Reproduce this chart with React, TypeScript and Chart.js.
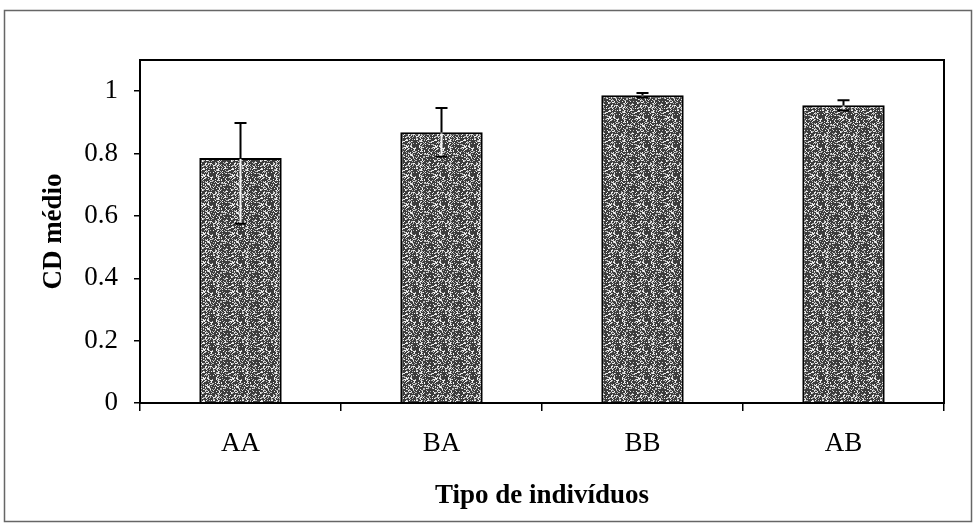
import React, { useEffect, useRef } from "react";
import { Chart, registerables } from "chart.js";

Chart.register(...registerables);

const categories = ["AA", "BA", "BB", "AB"];
const means = [0.786, 0.868, 0.987, 0.955];
const errHigh = [0.898, 0.946, 0.994, 0.971];
const errLow = [0.575, 0.79, 0.98, 0.938];
const yTicks = [0, 0.2, 0.4, 0.6, 0.8, 1];

const FONT = "'Liberation Serif', 'Times New Roman', serif";

function makePattern(): CanvasPattern | string {
  const n = 29;
  const c = document.createElement("canvas");
  c.width = n;
  c.height = n;
  const g = c.getContext("2d");
  if (!g) return "#777";
  g.fillStyle = "#3c3c3c";
  g.fillRect(0, 0, n, n);
  for (let i = 0; i < n; i++) {
    for (let j = 0; j < n; j++) {
      // deterministic hash-based speckle texture
      let h = (i * 374761393 + j * 668265263) | 0;
      h = Math.imul(h ^ (h >>> 13), 1274126177);
      h = (h ^ (h >>> 16)) >>> 0;
      const r = (h % 1000) / 1000;
      if (r < 0.36) {
        g.fillStyle = r < 0.18 ? "#f2f2f2" : "#b8b8b8";
        g.fillRect(i, j, 1, 1);
      }
    }
  }
  const p = g.createPattern(c, "repeat");
  return p || "#777";
}

const framePlugin = {
  id: "frameAndErrors",
  afterDatasetsDraw(chart: any) {
    const { ctx, chartArea } = chart;
    const yScale = chart.scales.y;
    const meta = chart.getDatasetMeta(0);
    ctx.save();
    meta.data.forEach((bar: any, i: number) => {
      const x = bar.x;
      const yTop = yScale.getPixelForValue(errHigh[i]);
      const yBar = yScale.getPixelForValue(means[i]);
      const yLow = yScale.getPixelForValue(errLow[i]);
      ctx.lineWidth = 2;
      ctx.strokeStyle = "#000";
      ctx.beginPath();
      ctx.moveTo(x, yTop);
      ctx.lineTo(x, yBar);
      ctx.moveTo(x - 6, yTop);
      ctx.lineTo(x + 6, yTop);
      ctx.stroke();
      ctx.strokeStyle = "#f4f4f4";
      ctx.beginPath();
      ctx.moveTo(x, yBar + 1);
      ctx.lineTo(x, yLow);
      ctx.stroke();
      ctx.strokeStyle = "#000";
      ctx.beginPath();
      ctx.moveTo(x - 6, yLow);
      ctx.lineTo(x + 6, yLow);
      ctx.stroke();
    });
    ctx.strokeStyle = "#000";
    ctx.lineWidth = 2;
    ctx.strokeRect(chartArea.left, chartArea.top, chartArea.right - chartArea.left, chartArea.bottom - chartArea.top);
    ctx.strokeStyle = "#666";
    ctx.lineWidth = 1.5;
    ctx.strokeRect(4.5, 10.5, 967, 511);
    ctx.restore();
  },
};

export default function App() {
  const ref = useRef<HTMLCanvasElement | null>(null);
  useEffect(() => {
    document.body.style.margin = "0";
    const canvas = ref.current;
    if (!canvas) return;
    const chart = new Chart(canvas, {
      type: "bar",
      data: {
        labels: categories,
        datasets: [
          {
            data: means,
            backgroundColor: makePattern() as any,
            borderColor: "#000",
            borderWidth: 2,
            barPercentage: 0.41,
            categoryPercentage: 1,
          },
        ],
      },
      options: {
        animation: false,
        responsive: true,
        maintainAspectRatio: false,
        layout: { padding: { top: 60, right: 33, left: 0, bottom: 0 } },
        plugins: { legend: { display: false }, tooltip: { enabled: false } },
        scales: {
          x: {
            offset: true,
            grid: { offset: true, drawOnChartArea: false, color: "#000", tickLength: 8, lineWidth: 1.5 },
            border: { display: true, color: "#000", width: 2 },
            ticks: { color: "#000", font: { family: FONT, size: 27 }, padding: 17 },
            title: {
              display: true,
              text: "Tipo de indivíduos",
              color: "#000",
              font: { family: FONT, size: 27, weight: "bold" },
              padding: { top: 0, bottom: 11 },
            },
            afterFit(scale: any) {
              scale.height = 120;
            },
          },
          y: {
            min: 0,
            max: 1.1,
            afterBuildTicks(scale: any) {
              scale.ticks = yTicks.map((v) => ({ value: v }));
            },
            grid: { drawOnChartArea: false, color: "#000", tickLength: 6, lineWidth: 1.5 },
            border: { display: true, color: "#000", width: 2 },
            ticks: {
              color: "#000",
              font: { family: FONT, size: 27 },
              padding: 16,
              callback: (v: any) => String(Math.round(Number(v) * 10) / 10),
            },
            title: {
              display: true,
              text: "CD médio",
              color: "#000",
              font: { family: FONT, size: 27, weight: "bold" },
              padding: { top: 38, bottom: 0 },
            },
            afterFit(scale: any) {
              scale.width = 140;
            },
          },
        },
      },
      plugins: [framePlugin],
    });
    return () => chart.destroy();
  }, []);
  return (
    <div style={{ width: 977, height: 523, position: "relative", background: "#fff" }}>
      <canvas ref={ref} />
    </div>
  );
}
